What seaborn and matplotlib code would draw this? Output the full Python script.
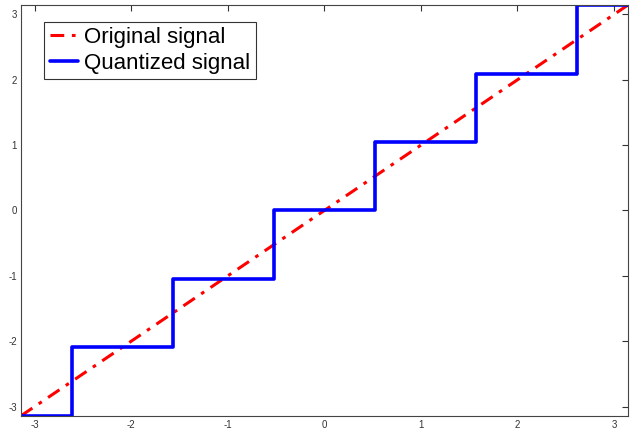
import numpy as np
import pandas as pd
import matplotlib
matplotlib.use("Agg")
import matplotlib.pyplot as plt
import seaborn as sns

# Data
orig_x = [-3.1416, 3.1416]
orig_y = [-3.1416, 3.1416]

# step edges and the quantized level held from each edge on
step_edges = [-3.1416, -2.618, -1.5708, -0.5236, 0.5236, 1.5708, 2.618, 3.1416]
step_levels = [-3.1416, -2.0944, -1.0472, 0.0, 1.0472, 2.0944, 3.1416, 3.1416]

tick_vals = [-3, -2, -1, 0, 1, 2, 3]


def main():
    sns.set_style("white")
    plt.rcParams['font.family'] = ['Liberation Sans', 'DejaVu Sans']
    plt.rcParams['axes.unicode_minus'] = False

    fig = plt.figure(figsize=(6.36, 4.30), dpi=100)
    ax = fig.add_axes([0.033, 0.033, 0.954, 0.955])

    df_orig = pd.DataFrame({'x': orig_x, 'y': orig_y})
    df_q = pd.DataFrame({'x': step_edges, 'y': step_levels})

    sns.lineplot(data=df_orig, x='x', y='y', ax=ax, color='red',
                 linewidth=2.2, label='Original signal', sort=False,
                 dashes=False)
    ax.lines[-1].set_dashes([4.5, 2.5, 1.2, 2.5])
    sns.lineplot(data=df_q, x='x', y='y', ax=ax, color='blue', linewidth=2.6,
                 drawstyle='steps-post', label='Quantized signal', sort=False)

    ax.set_xlim(-3.1416, 3.1416)
    ax.set_ylim(-3.1416, 3.1416)
    ax.set_xticks(tick_vals)
    ax.set_yticks(tick_vals)
    ax.set_xlabel('')
    ax.set_ylabel('')
    ax.tick_params(direction='in', length=4, width=0.8, labelsize=7,
                   top=True, right=True, colors='#333333', pad=3)
    for sp in ax.spines.values():
        sp.set_color('#444444')
        sp.set_linewidth(0.8)

    leg = ax.legend(loc='upper left', bbox_to_anchor=(0.038, 0.96), fontsize=16,
                    frameon=True, fancybox=False, handlelength=1.3,
                    handletextpad=0.25, borderpad=0.25, labelspacing=0.2,
                    borderaxespad=0, labelcolor='black')
    leg.get_frame().set_edgecolor('black')
    leg.get_frame().set_linewidth(0.8)

    fig.savefig('out.png', dpi=100)
    plt.close(fig)


if __name__ == "__main__":
    main()
